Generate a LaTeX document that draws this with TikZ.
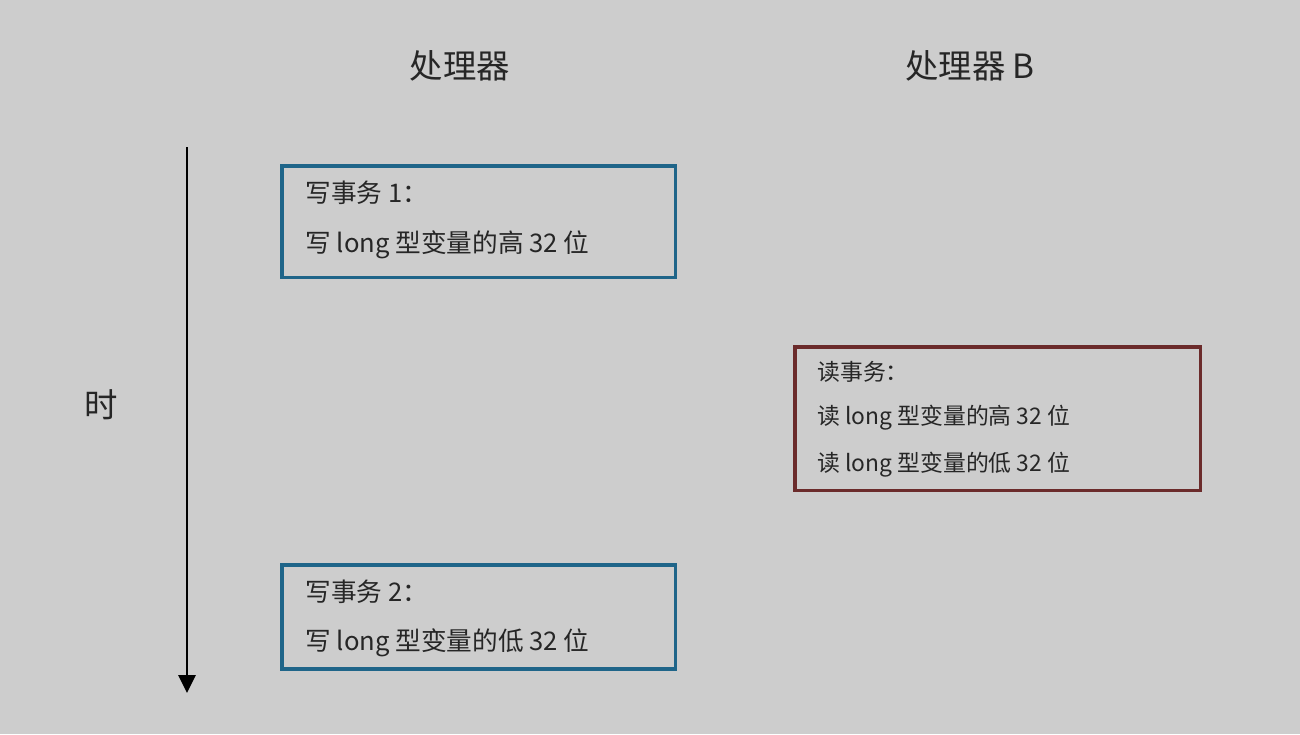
\documentclass[tikz,border=0pt]{standalone}
\usepackage{fontspec}
\setmainfont{Noto Sans CJK SC}
\usetikzlibrary{positioning,arrows.meta}

\definecolor{bggray}{HTML}{CDCDCD}
\definecolor{wblue}{HTML}{1F6589}
\definecolor{rbrown}{HTML}{6B2B2B}

\begin{document}
\begin{tikzpicture}[x=0.02cm,y=-0.02cm]
  \def\tx{26}            % text indent inside box
  \def\fbig{\fontsize{19}{22}\selectfont}
  \def\fmid{\fontsize{14.6}{17}\selectfont}
  \def\fsmall{\fontsize{13}{15}\selectfont}

  \tikzstyle{wbox}=[draw=wblue,line width=2pt,minimum width=7.88cm,anchor=north west,inner sep=0pt]
  \tikzstyle{rbox}=[draw=rbrown,line width=2pt,minimum width=8.12cm,anchor=north west,inner sep=0pt]
  \tikzstyle{txt}=[anchor=west,inner sep=0pt,text=black!85]

  % BACKGROUND
  \fill[bggray] (0,0) rectangle (1300,734);
  \useasboundingbox (0,0) rectangle (1300,734);

  % HEADERS
  \node[txt,anchor=center] (procA) at (460,66) {\fbig 处理器};
  \node[txt,anchor=center] (procB) at (970,66) {\fbig 处理器 B};

  % TIME AXIS
  \coordinate (ttop) at (187,147);
  \coordinate (tbot) at (187,693);
  \draw[line width=1.7pt,-{Triangle[length=0.36cm,width=0.34cm]}] (ttop) -- (tbot);
  \node[txt,anchor=center] (time) at (101,405) {\fbig 时};

  % WRITE TRANSACTION 1
  \node[wbox,minimum height=2.24cm] (w1) at (280,164) {};
  \node[txt] (w1a) at (279+\tx,193) {\fmid 写事务 1：};
  \node[txt] (w1b) at (279+\tx,245) {\fmid 写 long 型变量的高 32 位};

  % WRITE TRANSACTION 2
  \node[wbox,minimum height=2.08cm] (w2) at (280,563) {};
  \node[txt] (w2a) at (279+\tx,592) {\fmid 写事务 2：};
  \node[txt] (w2b) at (279+\tx,643) {\fmid 写 long 型变量的低 32 位};

  % READ TRANSACTION
  \node[rbox,minimum height=2.88cm] (r1) at (793,345) {};
  \node[txt] (r1a) at (792+25,372) {\fsmall 读事务：};
  \node[txt] (r1b) at (792+25,418) {\fsmall 读 long 型变量的高 32 位};
  \node[txt] (r1c) at (792+25,465) {\fsmall 读 long 型变量的低 32 位};
\end{tikzpicture}
\end{document}
